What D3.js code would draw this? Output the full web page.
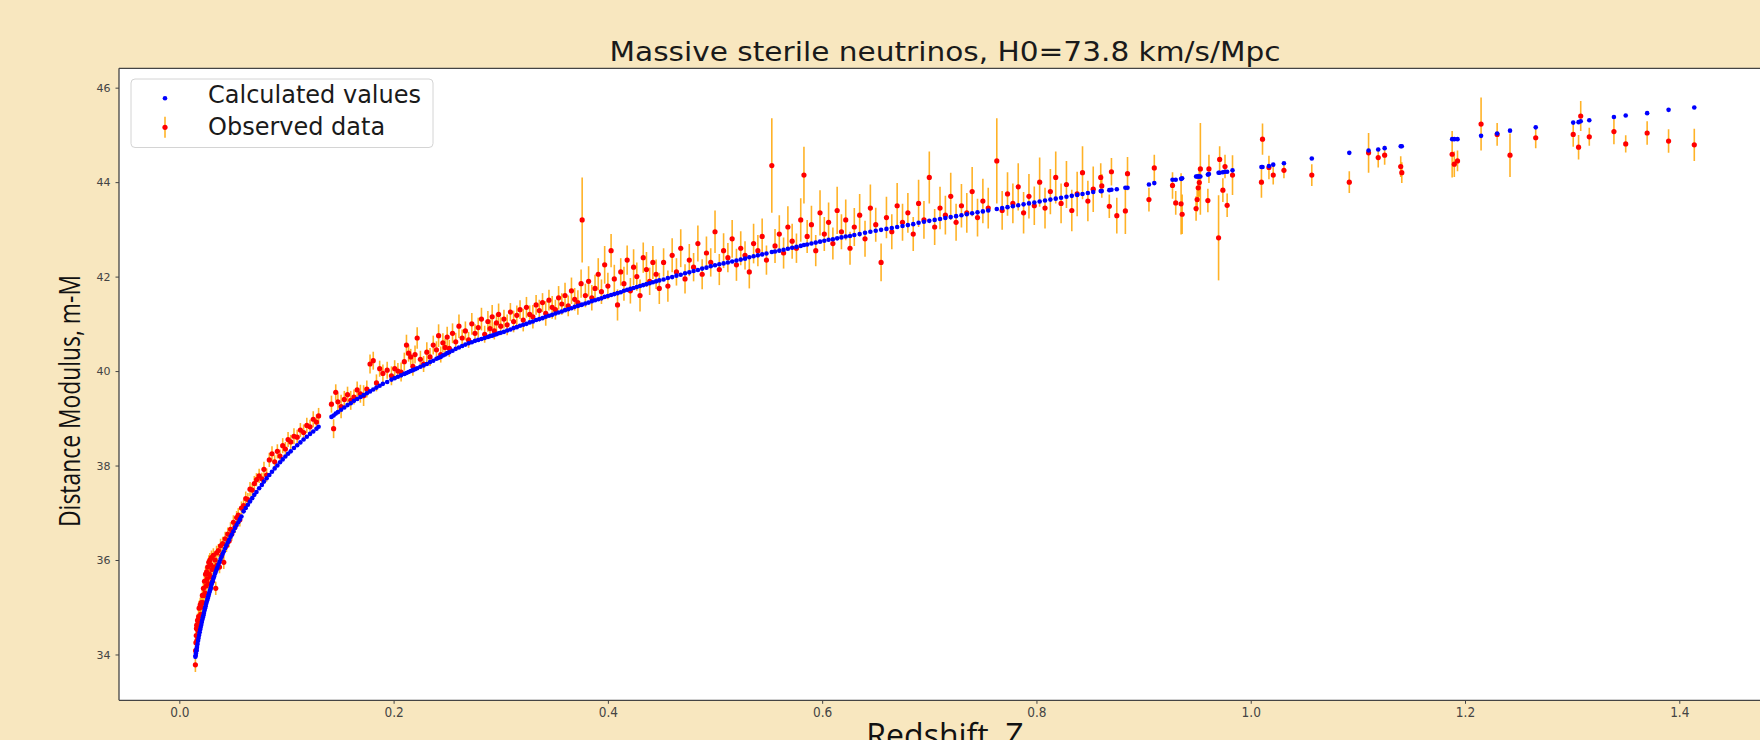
<!DOCTYPE html>
<html>
<head>
<meta charset="utf-8">
<script src="https://cdn.jsdelivr.net/npm/d3@7"></script>
<style>
  body { margin: 0; background: #f8e7bf; }
  svg { display: block; }
</style>
</head>
<body>
<div id="chart"></div>
<script>
// redshift of each supernova
var zValues = [
  .0150,.0152,.0155,.0158,.0160,.0162,.0165,.0170,.0175,.0180,.0185,.0190,.0195,.0200,.0205,.0210,.0215,.0220,.0225,.0230,
  .0235,.0240,.0245,.0250,.0255,.0260,.0265,.0270,.0275,.0280,.0285,.0290,.0295,.0300,.0305,.0310,.0318,.0325,.0333,.0340,
  .0348,.0355,.0365,.0375,.0385,.0395,.0405,.0415,.0428,.0440,.0452,.0465,.0478,.0490,.0505,.0520,.0535,.0550,.0565,.0580,
  .0600,.0620,.0640,.0660,.0680,.0700,.0720,.0745,.0770,.0790,.0815,.0840,.0865,.0890,.0915,.0940,.0965,.0990,.1015,.1040,
  .1070,.1100,.1130,.1160,.1190,.1220,.1250,.1280,.1300,
  .142,.144,.146,.148,.151,.154,.157,.160,.163,.166,.169,.172,.175,.178,.181,.184,.187,.190,.194,.198,
  .201,.204,.207,.210,.212,.214,.216,.218,.220,.222,.225,.228,.231,.234,.237,.240,.242,.244,.246,.248,
  .250,.252,.255,.258,.261,.264,.267,.270,.273,.276,.279,.282,.285,.288,.290,.292,.294,.296,.298,.300,
  .303,.306,.309,.312,.315,.318,.321,.324,.327,.330,.333,.336,.339,.342,.345,.348,.351,.354,.357,.360,
  .363,.366,.369,.372,.375,.376,.379,.382,.385,.388,.391,.394,.397,.400,.403,.406,.409,.412,.415,.418,
  .421,.424,.427,.430,.433,.436,.439,.442,.445,.448,
  .452,.456,.460,.464,.468,.472,.476,.480,.484,.488,.492,.496,.500,.504,.508,.512,.516,.520,.524,.528,
  .532,.536,.540,.544,.548,.553,.556,.560,.564,.568,.572,.576,.580,.583,.586,.590,.594,.598,.602,.606,
  .610,.614,.618,.622,.626,.630,.635,.640,.645,.650,.655,.660,.665,.670,.675,.680,.685,.690,.695,.700,
  .705,.710,.715,.720,.725,.730,.735,.740,.745,.750,.755,.763,.768,.773,.778,.783,.788,.793,.798,.803,
  .808,.813,.818,.823,.828,.833,.838,.843,.848,.853,
  .860,.861,.868,.870,.875,.883,.885,.905,.910,.927,.930,.935,.936,.949,.950,.951,.952,.953,.960,.961,
  .970,.971,.974,.976,.978,.983,1.010,1.011,1.017,1.021,1.031,1.057,1.092,1.110,1.119,1.125,1.140,1.141,1.188,1.190,
  1.193,1.215,1.230,1.242,1.266,1.301,1.306,1.308,1.316,1.339,1.350,1.370,1.390,1.414
];

// model distance modulus (blue)
var calcMu = [
  33.95,33.98,34.02,34.07,34.09,34.12,34.16,34.22,34.29,34.35,34.41,34.47,34.53,34.58,34.63,34.69,34.74,34.79,34.83,34.88,
  34.93,34.98,35.02,35.07,35.11,35.15,35.19,35.23,35.27,35.31,35.35,35.38,35.42,35.48,35.52,35.55,35.61,35.65,35.71,35.75,
  35.80,35.84,35.90,35.96,36.02,36.07,36.13,36.18,36.25,36.31,36.37,36.43,36.49,36.54,36.61,36.68,36.74,36.80,36.86,36.92,
  37.03,37.10,37.17,37.24,37.31,37.38,37.44,37.52,37.59,37.66,37.73,37.80,37.87,37.94,38.00,38.07,38.13,38.19,38.25,38.30,
  38.37,38.43,38.49,38.55,38.61,38.67,38.72,38.78,38.82,
  39.03,39.06,39.10,39.13,39.18,39.23,39.28,39.32,39.37,39.41,39.45,39.49,39.53,39.57,39.61,39.65,39.69,39.73,39.77,39.82,
  39.85,39.88,39.91,39.94,39.96,39.98,40.00,40.02,40.04,40.06,40.09,40.12,40.15,40.19,40.22,40.26,40.28,40.30,40.33,40.35,
  40.38,40.40,40.43,40.47,40.50,40.53,40.56,40.59,40.61,40.64,40.66,40.68,40.70,40.72,40.74,40.75,40.77,40.78,40.80,40.81,
  40.83,40.86,40.88,40.91,40.93,40.96,40.98,41.00,41.03,41.05,41.08,41.10,41.12,41.15,41.17,41.19,41.22,41.24,41.26,41.29,
  41.31,41.33,41.36,41.38,41.40,41.41,41.43,41.45,41.48,41.50,41.52,41.54,41.57,41.59,41.61,41.63,41.65,41.67,41.70,41.72,
  41.74,41.76,41.78,41.80,41.82,41.84,41.86,41.88,41.90,41.92,
  41.94,41.97,41.99,42.02,42.04,42.07,42.09,42.12,42.14,42.17,42.19,42.22,42.24,42.26,42.28,42.30,42.32,42.34,42.36,42.38,
  42.41,42.43,42.45,42.47,42.49,42.52,42.53,42.55,42.57,42.59,42.61,42.63,42.65,42.67,42.68,42.70,42.72,42.74,42.76,42.78,
  42.79,42.81,42.83,42.85,42.86,42.88,42.90,42.93,42.95,42.97,42.99,43.01,43.03,43.05,43.07,43.09,43.11,43.14,43.16,43.18,
  43.20,43.22,43.24,43.26,43.28,43.30,43.32,43.34,43.36,43.38,43.40,43.43,43.45,43.47,43.49,43.51,43.53,43.55,43.57,43.59,
  43.61,43.63,43.65,43.67,43.69,43.71,43.73,43.75,43.77,43.79,
  43.81,43.81,43.83,43.84,43.85,43.88,43.88,43.95,43.98,44.05,44.05,44.07,44.08,44.12,44.12,44.12,44.12,44.12,44.16,44.17,
  44.20,44.20,44.21,44.22,44.22,44.25,44.32,44.32,44.34,44.37,44.40,44.50,44.62,44.67,44.69,44.72,44.76,44.76,44.91,44.91,
  44.91,44.98,45.03,45.09,45.16,45.26,45.27,45.29,45.31,45.38,45.41,45.46,45.53,45.58
];

// observed distance modulus (red)
var obsMu = [
  33.78,34.08,34.25,34.40,34.55,34.62,34.30,34.72,34.50,34.80,34.98,34.70,35.05,34.85,35.10,35.00,35.25,35.10,35.40,35.25,
  35.55,35.30,35.70,35.45,35.75,35.60,35.85,35.50,35.95,35.70,36.00,35.65,35.90,36.05,35.80,35.55,36.10,35.85,36.00,35.40,
  36.15,35.90,36.20,35.85,36.30,36.10,36.35,35.95,36.45,36.30,36.55,36.40,36.65,36.55,36.80,36.70,36.90,36.95,36.85,37.10,
  37.15,37.30,37.28,37.50,37.48,37.62,37.70,37.78,37.72,37.92,37.80,38.12,38.25,38.08,38.30,38.20,38.42,38.35,38.55,38.50,
  38.62,38.60,38.75,38.70,38.85,38.82,38.98,38.92,39.05,
  39.30,38.78,39.55,39.35,39.25,39.40,39.50,39.38,39.45,39.60,39.52,39.48,39.62,40.15,40.22,39.75,40.05,39.95,40.02,39.90,
  40.05,40.00,39.98,40.20,40.55,40.38,40.30,40.10,40.35,40.70,40.25,40.15,40.40,40.30,40.55,40.45,40.75,40.35,40.60,40.50,
  40.72,40.48,40.80,40.62,40.95,40.70,40.85,40.66,41.00,40.80,40.92,41.10,40.78,41.05,40.90,41.15,40.85,41.02,41.20,40.95,
  41.10,40.98,41.25,41.05,41.18,41.30,41.08,41.35,41.20,41.15,41.40,41.28,41.45,41.22,41.50,41.35,41.30,41.55,41.42,41.60,
  41.38,41.70,41.52,41.45,41.85,43.20,41.60,41.90,41.55,41.75,42.05,41.68,42.25,41.80,42.55,41.95,41.40,42.10,41.85,42.35,
  41.70,42.20,42.00,41.60,42.40,42.15,41.90,42.30,42.05,41.75,
  42.30,41.80,42.45,42.10,42.60,41.95,42.35,42.20,42.70,42.05,42.50,42.30,42.95,42.15,42.55,42.40,42.80,42.25,42.60,42.45,
  42.10,42.70,42.55,42.85,42.35,44.35,42.65,42.90,42.50,43.05,42.75,42.60,43.20,44.15,42.85,43.10,42.55,43.35,42.90,43.15,
  42.70,43.40,42.95,43.20,42.60,43.05,43.30,42.80,43.45,43.10,42.30,43.25,42.95,43.50,43.15,43.35,42.90,43.55,43.20,44.10,
  43.05,43.45,43.30,43.70,43.15,43.50,43.35,43.80,43.25,43.60,43.45,44.45,43.40,43.75,43.55,43.90,43.35,43.70,43.50,44.00,
  43.45,43.80,44.10,43.55,43.95,43.40,43.75,44.20,43.60,43.85,
  44.10,43.92,43.49,44.22,43.29,43.39,44.18,43.63,44.30,43.93,43.56,43.54,43.32,43.44,43.63,43.88,43.99,44.28,43.61,44.28,
  42.82,44.48,43.83,44.33,43.51,44.15,44.00,44.91,44.31,44.15,44.25,44.15,44.00,44.62,44.52,44.57,44.33,44.20,44.59,44.38,
  44.45,45.23,45.01,44.57,44.94,45.01,44.74,45.40,44.96,45.07,44.81,45.04,44.87,44.79
];

// 1-sigma error on the observed value
var obsErr = [
  .15,.14,.15,.13,.14,.16,.12,.15,.13,.14,.16,.12,.15,.13,.14,.13,.15,.12,.16,.14,
  .15,.13,.16,.14,.15,.13,.16,.14,.15,.12,.15,.14,.13,.15,.14,.13,.15,.14,.13,.14,
  .15,.13,.14,.13,.15,.13,.14,.14,.15,.13,.14,.13,.15,.14,.15,.13,.14,.15,.14,.14,
  .13,.15,.14,.15,.14,.16,.14,.15,.13,.16,.14,.15,.16,.14,.15,.14,.16,.15,.16,.15,
  .17,.16,.15,.17,.16,.15,.17,.16,.17,
  .18,.20,.17,.19,.25,.18,.17,.20,.16,.18,.19,.22,.18,.20,.19,.18,.17,.19,.18,.20,
  .18,.17,.20,.19,.22,.18,.17,.20,.19,.23,.18,.17,.21,.19,.20,.18,.24,.17,.20,.19,
  .22,.18,.21,.19,.25,.18,.20,.17,.23,.19,.21,.24,.18,.22,.19,.25,.18,.20,.23,.19,
  .20,.22,.19,.23,.21,.20,.24,.22,.19,.25,.21,.23,.20,.26,.22,.24,.21,.25,.23,.27,
  .22,.28,.24,.26,.30,.90,.25,.32,.27,.29,.34,.26,.40,.28,.35,.30,.33,.29,.36,.31,
  .27,.38,.30,.34,.32,.37,.29,.35,.31,.33,
  .30,.33,.36,.29,.40,.31,.34,.30,.38,.32,.35,.30,.45,.33,.37,.31,.40,.34,.36,.30,
  .35,.42,.33,.38,.31,1.00,.36,.40,.33,.44,.37,.31,.46,.60,.35,.40,.33,.48,.36,.42,
  .34,.50,.37,.43,.35,.40,.45,.38,.50,.36,.40,.44,.37,.48,.39,.42,.36,.50,.40,.55,
  .38,.45,.41,.50,.39,.46,.42,.52,.40,.47,.43,.90,.41,.46,.42,.50,.44,.47,.41,.52,
  .43,.48,.55,.42,.50,.44,.47,.56,.43,.48,
  .30,.25,.25,.29,.38,.49,.35,.25,.28,.28,.25,.65,.42,.26,.25,.30,.30,.97,.25,.30,
  .90,.28,.25,.25,.25,.42,.33,.33,.25,.20,.17,.23,.23,.42,.21,.20,.22,.22,.49,.27,
  .22,.56,.24,.46,.22,.26,.26,.32,.19,.27,.18,.25,.25,.34
];

var xTicks = [0.0, 0.2, 0.4, 0.6, 0.8, 1.0, 1.2, 1.4];
var yTicks = [34, 36, 38, 40, 42, 44, 46];

var chartTitle = "Massive sterile neutrinos, H0=73.8 km/s/Mpc";
var xLabel = "Redshift, Z";
var yLabel = "Distance Modulus, m-M";
var legendLabels = ["Calculated values", "Observed data"];

var points = zValues.map(function (z, i) {
    return {z: z, calc: calcMu[i], obs: obsMu[i], err: obsErr[i]};
});

var width = 1760, height = 740;
var plot = {left: 119, top: 68.3, right: 1771, bottom: 700.3};

var svg = d3.select("#chart")
    .append("svg")
    .attr("width", width)
    .attr("height", height)
    .style("background", "#f8e7bf");

var x = d3.scaleLinear()
    .domain([-0.0563, 1.4856])
    .range([plot.left, plot.right]);

var y = d3.scaleLinear()
    .domain([33.03, 46.41])
    .range([plot.bottom, plot.top]);

// white axes background
svg.append("rect")
    .attr("x", plot.left)
    .attr("y", plot.top)
    .attr("width", plot.right - plot.left)
    .attr("height", plot.bottom - plot.top)
    .attr("fill", "#ffffff");

svg.append("clipPath").attr("id", "clip")
    .append("rect")
    .attr("x", plot.left)
    .attr("y", plot.top)
    .attr("width", plot.right - plot.left)
    .attr("height", plot.bottom - plot.top);

var g = svg.append("g").attr("clip-path", "url(#clip)");

// error bars
g.selectAll("line.err")
    .data(points)
    .enter()
    .append("line")
    .attr("class", "err")
    .attr("x1", function (d) { return x(d.z); })
    .attr("x2", function (d) { return x(d.z); })
    .attr("y1", function (d) { return y(d.obs - d.err); })
    .attr("y2", function (d) { return y(d.obs + d.err); })
    .attr("stroke", "#ffa500")
    .attr("stroke-opacity", 0.85)
    .attr("stroke-width", 1.6);

// observed points
g.selectAll("circle.obs")
    .data(points)
    .enter()
    .append("circle")
    .attr("class", "obs")
    .attr("cx", function (d) { return x(d.z); })
    .attr("cy", function (d) { return y(d.obs); })
    .attr("r", 2.6)
    .attr("fill", "#ff0000");

// calculated points
g.selectAll("circle.calc")
    .data(points)
    .enter()
    .append("circle")
    .attr("class", "calc")
    .attr("cx", function (d) { return x(d.z); })
    .attr("cy", function (d) { return y(d.calc); })
    .attr("r", 2.3)
    .attr("fill", "#0000ff");

// axes
var xAxis = svg.append("g")
    .attr("transform", "translate(0," + plot.bottom + ")")
    .call(d3.axisBottom(x).tickValues(xTicks).tickFormat(d3.format(".1f")).tickSize(3.5).tickPadding(4));

var yAxis = svg.append("g")
    .attr("transform", "translate(" + plot.left + ",0)")
    .call(d3.axisLeft(y).tickValues(yTicks).tickSize(3.5).tickPadding(5));

xAxis.select(".domain").remove();
yAxis.select(".domain").remove();
xAxis.selectAll("line").attr("stroke", "#444");
yAxis.selectAll("line").attr("stroke", "#444");
xAxis.selectAll("text")
    .style("font-family", "'DejaVu Sans Condensed', 'DejaVu Sans', sans-serif")
    .style("font-stretch", "condensed")
    .style("font-size", "13.5px")
    .attr("fill", "#444");
yAxis.selectAll("text")
    .style("font-family", "'DejaVu Sans', sans-serif")
    .style("font-size", "11px")
    .attr("fill", "#444");

// spines (right one is off the page)
svg.append("line")
    .attr("x1", plot.left).attr("x2", plot.left)
    .attr("y1", plot.top).attr("y2", plot.bottom)
    .attr("stroke", "#444").attr("stroke-width", 1.3);
svg.append("line")
    .attr("x1", plot.left).attr("x2", plot.right)
    .attr("y1", plot.top).attr("y2", plot.top)
    .attr("stroke", "#444").attr("stroke-width", 1.3);
svg.append("line")
    .attr("x1", plot.left).attr("x2", plot.right)
    .attr("y1", plot.bottom).attr("y2", plot.bottom)
    .attr("stroke", "#444").attr("stroke-width", 1.3);

// title
svg.append("text")
    .attr("x", (plot.left + plot.right) / 2)
    .attr("y", 60.5)
    .attr("text-anchor", "middle")
    .attr("textLength", 671)
    .attr("lengthAdjust", "spacingAndGlyphs")
    .style("font-family", "'DejaVu Sans', sans-serif")
    .style("font-size", "26px")
    .attr("fill", "#1a1a1a")
    .text(chartTitle);

// axis labels (x label is cut by the bottom edge, as in the original)
svg.append("text")
    .attr("x", 945)
    .attr("y", 747)
    .attr("text-anchor", "middle")
    .style("font-family", "'Open Sans', sans-serif")
    .style("font-size", "32px")
    .attr("fill", "#111")
    .text(xLabel);

svg.append("text")
    .attr("transform", "translate(80,401) rotate(-90)")
    .attr("text-anchor", "middle")
    .attr("textLength", 252)
    .attr("lengthAdjust", "spacingAndGlyphs")
    .style("font-family", "'Open Sans', sans-serif")
    .style("font-size", "30px")
    .attr("fill", "#111")
    .text(yLabel);

// legend
var leg = svg.append("g");
leg.append("rect")
    .attr("x", 131).attr("y", 79)
    .attr("width", 302).attr("height", 68.5)
    .attr("rx", 4)
    .attr("fill", "#ffffff").attr("fill-opacity", 0.8)
    .attr("stroke", "#d4d4d4");
leg.append("circle")
    .attr("cx", 165).attr("cy", 98.3).attr("r", 2.3)
    .attr("fill", "#0000ff");
leg.append("line")
    .attr("x1", 165).attr("x2", 165)
    .attr("y1", 116.7).attr("y2", 137.7)
    .attr("stroke", "#ffa500").attr("stroke-opacity", 0.85).attr("stroke-width", 1.6);
leg.append("circle")
    .attr("cx", 165).attr("cy", 127.3).attr("r", 2.6)
    .attr("fill", "#ff0000");
leg.selectAll("text.lab")
    .data(legendLabels)
    .enter()
    .append("text")
    .attr("class", "lab")
    .attr("x", 208)
    .attr("y", function (d, i) { return 103 + i * 31.5; })
    .style("font-family", "'DejaVu Sans', sans-serif")
    .style("font-size", "24px")
    .attr("fill", "#1a1a1a")
    .text(function (d) { return d; });
</script>
</body>
</html>
